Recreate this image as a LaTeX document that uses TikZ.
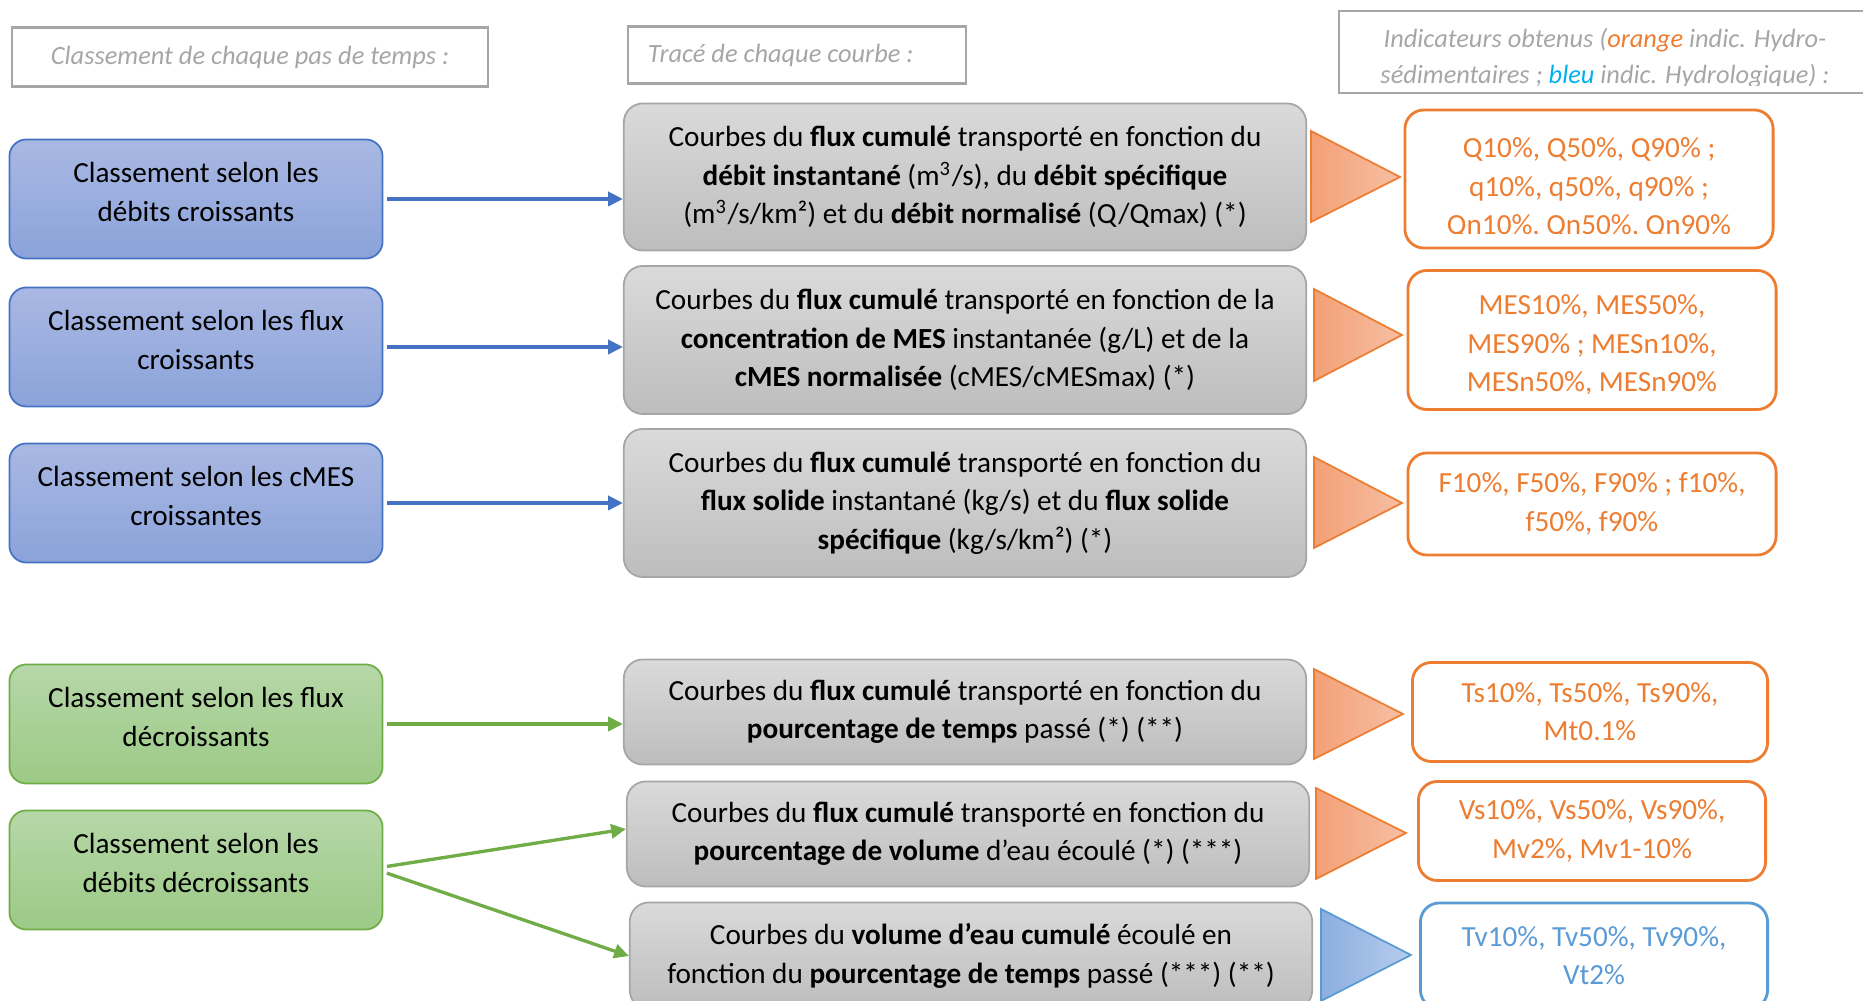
\documentclass[tikz,border=0pt]{standalone}
\usepackage{fontspec}
\setmainfont{Carlito}
\usetikzlibrary{arrows.meta}

\definecolor{bluedge}{HTML}{4472C4}
\definecolor{bluetop}{HTML}{A9B8E3}
\definecolor{bluebot}{HTML}{8BA3DA}
\definecolor{greenedge}{HTML}{70AD47}
\definecolor{greentop}{HTML}{B6D7A8}
\definecolor{greenbot}{HTML}{9CCA86}
\definecolor{grayedge}{HTML}{A6A6A6}
\definecolor{graytop}{HTML}{DADADA}
\definecolor{graybot}{HTML}{BDBDBD}
\definecolor{orangeline}{HTML}{ED7D31}
\definecolor{orangeleft}{HTML}{F3A077}
\definecolor{orangeright}{HTML}{F6BFA3}
\definecolor{blueline}{HTML}{5B9BD5}
\definecolor{blueleft}{HTML}{8CAFE0}
\definecolor{blueright}{HTML}{B7CCEC}
\definecolor{hdrgray}{HTML}{A6A6A6}
\definecolor{bleutxt}{HTML}{00B0F0}

\begin{document}
\begin{tikzpicture}[x=0.01cm, y=-0.01cm,
	every node/.style={font=\fontsize{8.3}{10.9}\selectfont, align=center, inner sep=0pt},
	header/.style={draw=hdrgray, line width=0.6pt, text=hdrgray, font=\fontsize{7.5}{10.2}\selectfont\itshape},
	sortbox/.style={rounded corners=0.17cm, line width=0.5pt, minimum width=3.73cm, minimum height=1.19cm, text depth=4pt},
	bluesort/.style={sortbox, draw=bluedge, top color=bluetop, bottom color=bluebot},
	greensort/.style={sortbox, draw=greenedge, top color=greentop, bottom color=greenbot},
	curvebox/.style={rounded corners=0.19cm, line width=0.5pt, draw=grayedge, top color=graytop, bottom color=graybot, minimum width=6.82cm},
	resbox/.style={rounded corners=0.19cm, line width=0.8pt, draw=orangeline, fill=white, minimum width=3.68cm, text=orangeline},
	hydbox/.style={resbox, draw=blueline, text=blueline},
	orangetri/.style={draw=orangeline, line width=0.5pt, left color=orangeleft, right color=orangeright},
	bluetri/.style={draw=blueline, line width=0.5pt, left color=blueleft, right color=blueright},
	bluearrow/.style={draw=bluedge, line width=0.95pt, shorten <=1pt, -{Triangle[length=4.2pt,width=4pt]}},
	greenarrow/.style={draw=greenedge, line width=0.95pt, shorten <=1pt, -{Triangle[length=4.2pt,width=4pt]}}
]
	\useasboundingbox (0,0) rectangle (1863,1001);
	\clip (0,0) rectangle (1863,1001);

	% headers
	\node [header, minimum width=4.75cm, minimum height=0.59cm] (h1) at (250,57) {Classement de chaque pas de temps :};
	\node [header, minimum height=0.57cm, inner xsep=0.2cm, text width=2.98cm, align=flush left] (h2) at (797,55) {Tracé de chaque courbe :};
	\node [header, minimum width=5.35cm, minimum height=0.82cm] (h3) at (1607,52) {};
	\begin{scope}
		\clip (h3.north west) rectangle ([yshift=0.09cm]h3.south east);
		\node [text=hdrgray, font=\fontsize{7.5}{10.2}\selectfont\itshape] (h3t) at (1605,58) {Indicateurs obtenus (\textcolor{orangeline}{orange} indic. Hydro-\\sédimentaires ; \textcolor{bleutxt}{bleu} indic. Hydrologique) :};
	\end{scope}

	% sorting
	\node [bluesort] (l1) at (196,199) {Classement selon les\\débits croissants};
	\node [bluesort] (l2) at (196,347) {Classement selon les flux\\croissants};
	\node [bluesort] (l3) at (196,503) {Classement selon les cMES\\croissantes};
	\node [greensort] (l4) at (196,724) {Classement selon les flux\\décroissants};
	\node [greensort] (l5) at (196,870) {Classement selon les\\débits décroissants};

	% curves
	\node [curvebox, minimum height=1.47cm] (m1) at (965,177) {Courbes du \textbf{flux cumulé} transporté en fonction du\\\textbf{débit instantané} (m\textsuperscript{3}/s), du \textbf{débit spécifique}\\(m\textsuperscript{3}/s/km²) et du \textbf{débit normalisé} (Q/Qmax) (*)};
	\node [curvebox, minimum height=1.48cm] (m2) at (965,340) {Courbes du \textbf{flux cumulé} transporté en fonction de la\\\textbf{concentration de MES} instantanée (g/L) et de la\\\textbf{cMES normalisée} (cMES/cMESmax) (*)};
	\node [curvebox, minimum height=1.48cm] (m3) at (965,503) {Courbes du \textbf{flux cumulé} transporté en fonction du\\\textbf{flux solide} instantané (kg/s) et du \textbf{flux solide}\\\textbf{spécifique} (kg/s/km²) (*)};
	\node [curvebox, minimum height=1.05cm] (m4) at (965,712) {Courbes du \textbf{flux cumulé} transporté en fonction du\\\textbf{pourcentage de temps} passé (*) (**)};
	\node [curvebox, minimum height=1.05cm] (m5) at (968,834) {Courbes du \textbf{flux cumulé} transporté en fonction du\\\textbf{pourcentage de volume} d’eau écoulé (*) (***)};
	\node [curvebox, minimum height=1.07cm] (m6) at (971,956) {Courbes du \textbf{volume d’eau cumulé} écoulé en\\fonction du \textbf{pourcentage de temps} passé (***) (**)};

	% triangles
	\draw [orangetri] (1311,131) -- (1400,177) -- (1311,222) -- cycle;
	\draw [orangetri] (1314,289) -- (1402,335) -- (1314,381) -- cycle;
	\draw [orangetri] (1314,457) -- (1402,503) -- (1314,548) -- cycle;
	\draw [orangetri] (1314,669) -- (1403,714) -- (1314,759) -- cycle;
	\draw [orangetri] (1316,788) -- (1406,833) -- (1316,879) -- cycle;
	\draw [bluetri] (1321,909) -- (1411,955) -- (1321,1001) -- cycle;

	% indicators
	\node [resbox, minimum height=1.38cm] (r1) at (1589,179) {};
	\node [resbox, minimum height=1.39cm] (r2) at (1592,340) {};
	\begin{scope}
		\clip (r1.north west) rectangle ([yshift=0.16cm]r1.south east);
		\node [text=orangeline] (r1t) at (1589,188) {Q10\%, Q50\%, Q90\% ;\\q10\%, q50\%, q90\% ;\\Qn10\%, Qn50\%, Qn90\%};
	\end{scope}
	\begin{scope}
		\clip (r2.north west) rectangle ([yshift=0.17cm]r2.south east);
		\node [text=orangeline] (r2t) at (1592,345) {MES10\%, MES50\%,\\MES90\% ; MESn10\%,\\MESn50\%, MESn90\%};
	\end{scope}
	\node [resbox, minimum height=1.02cm] (r3) at (1592,504) {F10\%, F50\%, F90\% ; f10\%,\\f50\%, f90\%};
	\node [resbox, minimum height=0.99cm, minimum width=3.55cm] (r4) at (1590,712) {Ts10\%, Ts50\%, Ts90\%,\\Mt0.1\%};
	\node [resbox, minimum height=0.99cm, minimum width=3.47cm] (r5) at (1592,831) {Vs10\%, Vs50\%, Vs90\%,\\Mv2\%, Mv1-10\%};
	\node [hydbox, minimum height=1.06cm, minimum width=3.47cm] (r6) at (1594,956) {Tv10\%, Tv50\%, Tv90\%,\\Vt2\%};

	% arrows
	\draw [bluearrow] (l1.east) -- (l1.east -| m1.west);
	\draw [bluearrow] (l2.east) -- (l2.east -| m2.west);
	\draw [bluearrow] (l3.east) -- (l3.east -| m3.west);
	\draw [greenarrow] (l4.east) -- (l4.east -| m4.west);
	\draw [greenarrow] ([yshift=0.03cm]l5.east) -- ([yshift=0.05cm]m5.west);
	\draw [greenarrow] ([yshift=-0.02cm]l5.east) -- (m6.west);
\end{tikzpicture}
\end{document}
